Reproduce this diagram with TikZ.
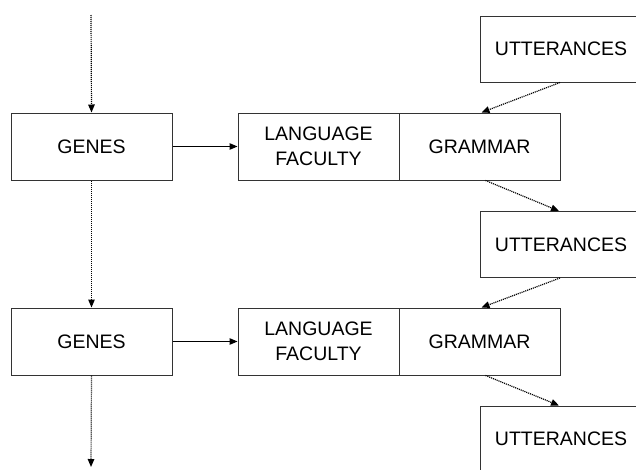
\documentclass[tikz,border=0pt]{standalone}
\usepackage{fontspec}
\setmainfont{Liberation Sans}
\usetikzlibrary{arrows.meta}
\begin{document}
\begin{tikzpicture}[x=1pt,y=-1pt,
  box/.style={draw=black!80,line width=1pt,rectangle,inner sep=0pt,minimum width=161pt,minimum height=67pt,align=center,font=\fontsize{19.5}{25}\selectfont},
  ubox/.style={box,minimum width=162pt,minimum height=66pt},
  solidarr/.style={line width=1.1pt,-{Triangle[length=8pt,width=6.5pt]}},
  dotarr/.style={line width=1.2pt,dash pattern=on 1.1pt off 0.9pt,-{Triangle[length=8pt,width=6.5pt]}}
]
\useasboundingbox (0,0) rectangle (636,469);
\clip (0,0) rectangle (636,469);
% row 1
\node[box] (g1) at (91.5,146.5) {GENES};
\node[box] (lf1) at (318.5,146.5) {LANGUAGE\\FACULTY};
\node[box] (gr1) at (479.5,146.5) {GRAMMAR};
% row 2
\node[box] (g2) at (91.5,341.5) {GENES};
\node[box] (lf2) at (318.5,341.5) {LANGUAGE\\FACULTY};
\node[box] (gr2) at (479.5,341.5) {GRAMMAR};
% utterances
\node[ubox] (u1) at (561,49) {UTTERANCES};
\node[ubox] (u2) at (561,244.5) {UTTERANCES};
\node[ubox] (u3) at (561,439) {UTTERANCES};
\coordinate (top) at (91,15);
\coordinate (bot) at (91,467);
% connectors
\draw[dotarr] (top) -- (g1.north);
\draw[dotarr] (g1.south) -- (g2.north);
\draw[dotarr] (g2.south) -- (bot);
\draw[solidarr] (g1.east) -- (lf1.west);
\draw[solidarr] (g2.east) -- (lf2.west);
\draw[dotarr] ([xshift=-1pt]u1.south) -- ([xshift=2pt]gr1.north);
\draw[dotarr] ([xshift=6pt]gr1.south) -- ([xshift=-2pt]u2.north);
\draw[dotarr] ([xshift=-1pt]u2.south) -- ([xshift=2pt]gr2.north);
\draw[dotarr] ([xshift=6pt]gr2.south) -- ([xshift=-2pt]u3.north);
\end{tikzpicture}
\end{document}
